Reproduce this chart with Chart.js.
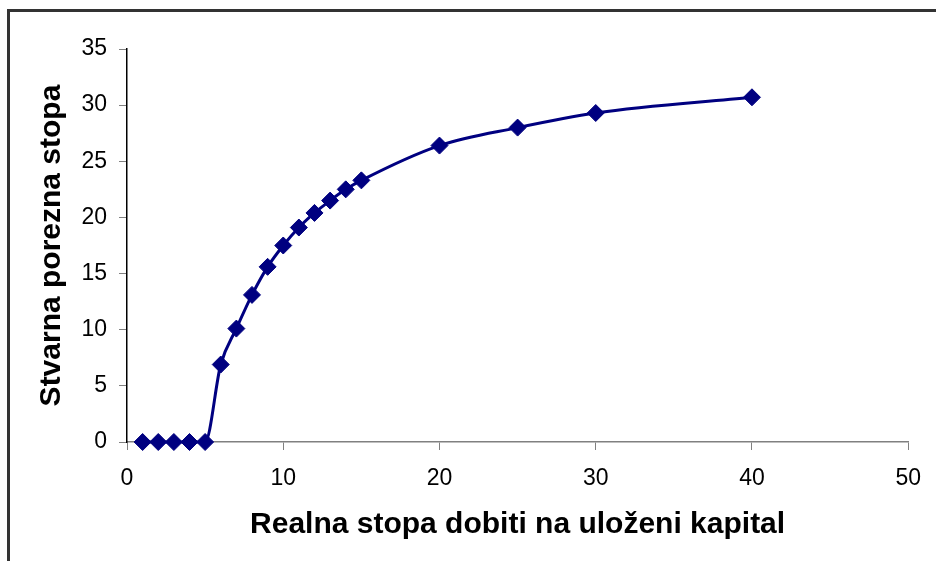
<!DOCTYPE html>
<html>
<head>
<meta charset="utf-8">
<script src="https://cdn.jsdelivr.net/npm/chart.js@4"></script>
<style>
  html, body { margin: 0; padding: 0; background: #fff; overflow: hidden; }
  #wrap { position: relative; width: 936px; height: 561px; }
  #frame { position: absolute; left: 7px; top: 9px; width: 1000px; height: 1000px;
           border-top: 3px solid #333; border-left: 3px solid #333; pointer-events: none; }
</style>
</head>
<body>
<div id="wrap">
  <canvas id="chart" width="936" height="561"></canvas>
  <div id="frame"></div>
</div>
<script>
// vrijednosti očitane s grafikona
const stopaDobiti = [1, 2, 3, 4, 5, 6, 7, 8, 9, 10, 11, 12, 13, 14, 15, 20, 25, 30, 40];
const poreznaStopa = [0, 0, 0, 0, 0, 6.9, 10.1, 13.1, 15.6, 17.5, 19.1, 20.4, 21.5, 22.5, 23.3, 26.4, 28.0, 29.3, 30.7];
const xTitle = 'Realna stopa dobiti na uloženi kapital';
const yTitle = 'Stvarna porezna stopa';

const navy = '#000080';
const tickFont = { family: 'Liberation Sans, Arial, sans-serif', size: 23 };
const titleFont = { family: 'Liberation Sans, Arial, sans-serif', size: 30, weight: 'bold' };

const points = stopaDobiti.map((x, i) => ({ x: x, y: poreznaStopa[i] }));

new Chart(document.getElementById('chart').getContext('2d'), {
    type: 'scatter',
    data: {
        datasets: [{
            data: points,
            showLine: true,
            clip: false,
            borderColor: navy,
            backgroundColor: navy,
            borderWidth: 3,
            cubicInterpolationMode: 'monotone',
            pointStyle: 'rectRot',
            pointRadius: 8.5,
            pointHoverRadius: 8.5,
            pointBorderWidth: 1,
            pointBorderColor: navy
        }]
    },
    options: {
        responsive: false,
        animation: false,
        layout: { padding: { left: 0, top: 49, right: 22, bottom: 0 } },
        plugins: { legend: { display: false }, tooltip: { enabled: false } },
        scales: {
            x: {
                type: 'linear',
                min: 0, max: 50,
                ticks: { stepSize: 10, color: '#000', font: tickFont, padding: 15, maxRotation: 0 },
                grid: { drawOnChartArea: false, drawTicks: true, tickLength: 8, color: '#808080' },
                border: { display: true, color: '#808080', width: 1.5 },
                title: { display: true, text: xTitle, color: '#000', font: titleFont, padding: { top: 0, bottom: 18 } },
                afterFit: function(scale) { scale.height = 119; }
            },
            y: {
                type: 'linear',
                min: 0, max: 35,
                ticks: { stepSize: 5, color: '#000', font: tickFont, padding: 12 },
                grid: { drawOnChartArea: false, drawTicks: true, tickLength: 8, color: '#808080' },
                border: { display: true, color: '#000', width: 1.5 },
                title: { display: true, text: yTitle, color: '#000', font: titleFont, padding: { top: 34, bottom: 0 } },
                afterFit: function(scale) { scale.width = 127; }
            }
        }
    }
});
</script>
</body>
</html>
